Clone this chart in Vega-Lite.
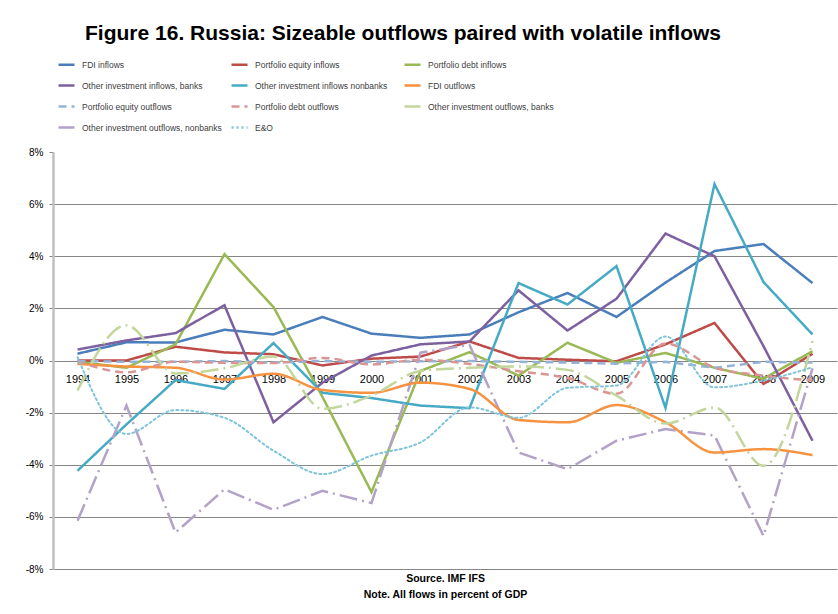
{
  "$schema": "https://vega.github.io/schema/vega-lite/v6.json",
  "width": 784,
  "height": 417,
  "autosize": {"type": "none"},
  "padding": {"left": 53, "top": 152, "right": 1, "bottom": 45},
  "background": "white",
  "config": {"view": {"stroke": null}, "font": "Liberation Sans"},
  "title": {
    "text": "Figure 16. Russia: Sizeable outflows paired with volatile inflows",
    "frame": "group", "anchor": "middle", "dx": -42, "offset": -6,
    "baseline": "alphabetic", "fontSize": 21, "fontWeight": "bold",
    "font": "Liberation Sans", "color": "#000000"
  },
  "datasets": {
    "flows": [
      {"year":"1994","series":"FDI inflows","value":0.26},{"year":"1995","series":"FDI inflows","value":0.7},{"year":"1996","series":"FDI inflows","value":0.69},{"year":"1997","series":"FDI inflows","value":1.18},{"year":"1998","series":"FDI inflows","value":1.0},{"year":"1999","series":"FDI inflows","value":1.67},{"year":"2000","series":"FDI inflows","value":1.03},{"year":"2001","series":"FDI inflows","value":0.87},{"year":"2002","series":"FDI inflows","value":1.0},{"year":"2003","series":"FDI inflows","value":1.85},{"year":"2004","series":"FDI inflows","value":2.59},{"year":"2005","series":"FDI inflows","value":1.67},{"year":"2006","series":"FDI inflows","value":2.99},{"year":"2007","series":"FDI inflows","value":4.2},{"year":"2008","series":"FDI inflows","value":4.47},{"year":"2009","series":"FDI inflows","value":2.97},
      {"year":"1994","series":"Portfolio equity inflows","value":0.0},{"year":"1995","series":"Portfolio equity inflows","value":0.0},{"year":"1996","series":"Portfolio equity inflows","value":0.53},{"year":"1997","series":"Portfolio equity inflows","value":0.31},{"year":"1998","series":"Portfolio equity inflows","value":0.24},{"year":"1999","series":"Portfolio equity inflows","value":-0.19},{"year":"2000","series":"Portfolio equity inflows","value":0.07},{"year":"2001","series":"Portfolio equity inflows","value":0.15},{"year":"2002","series":"Portfolio equity inflows","value":0.73},{"year":"2003","series":"Portfolio equity inflows","value":0.1},{"year":"2004","series":"Portfolio equity inflows","value":0.03},{"year":"2005","series":"Portfolio equity inflows","value":-0.03},{"year":"2006","series":"Portfolio equity inflows","value":0.62},{"year":"2007","series":"Portfolio equity inflows","value":1.44},{"year":"2008","series":"Portfolio equity inflows","value":-0.9},{"year":"2009","series":"Portfolio equity inflows","value":0.26},
      {"year":"1994","series":"Portfolio debt inflows","value":-0.05},{"year":"1995","series":"Portfolio debt inflows","value":-0.28},{"year":"1996","series":"Portfolio debt inflows","value":0.62},{"year":"1997","series":"Portfolio debt inflows","value":4.08},{"year":"1998","series":"Portfolio debt inflows","value":2.05},{"year":"1999","series":"Portfolio debt inflows","value":-1.4},{"year":"2000","series":"Portfolio debt inflows","value":-5.05},{"year":"2001","series":"Portfolio debt inflows","value":-0.4},{"year":"2002","series":"Portfolio debt inflows","value":0.32},{"year":"2003","series":"Portfolio debt inflows","value":-0.58},{"year":"2004","series":"Portfolio debt inflows","value":0.68},{"year":"2005","series":"Portfolio debt inflows","value":-0.09},{"year":"2006","series":"Portfolio debt inflows","value":0.29},{"year":"2007","series":"Portfolio debt inflows","value":-0.28},{"year":"2008","series":"Portfolio debt inflows","value":-0.7},{"year":"2009","series":"Portfolio debt inflows","value":0.36},
      {"year":"1994","series":"Other investment inflows, banks","value":0.42},{"year":"1995","series":"Other investment inflows, banks","value":0.77},{"year":"1996","series":"Other investment inflows, banks","value":1.05},{"year":"1997","series":"Other investment inflows, banks","value":2.12},{"year":"1998","series":"Other investment inflows, banks","value":-2.37},{"year":"1999","series":"Other investment inflows, banks","value":-0.85},{"year":"2000","series":"Other investment inflows, banks","value":0.19},{"year":"2001","series":"Other investment inflows, banks","value":0.62},{"year":"2002","series":"Other investment inflows, banks","value":0.73},{"year":"2003","series":"Other investment inflows, banks","value":2.69},{"year":"2004","series":"Other investment inflows, banks","value":1.15},{"year":"2005","series":"Other investment inflows, banks","value":2.37},{"year":"2006","series":"Other investment inflows, banks","value":4.87},{"year":"2007","series":"Other investment inflows, banks","value":4.0},{"year":"2008","series":"Other investment inflows, banks","value":0.55},{"year":"2009","series":"Other investment inflows, banks","value":-3.08},
      {"year":"1994","series":"Other investment inflows nonbanks","value":-4.23},{"year":"1995","series":"Other investment inflows nonbanks","value":-2.45},{"year":"1996","series":"Other investment inflows nonbanks","value":-0.75},{"year":"1997","series":"Other investment inflows nonbanks","value":-1.09},{"year":"1998","series":"Other investment inflows nonbanks","value":0.67},{"year":"1999","series":"Other investment inflows nonbanks","value":-1.24},{"year":"2000","series":"Other investment inflows nonbanks","value":-1.44},{"year":"2001","series":"Other investment inflows nonbanks","value":-1.73},{"year":"2002","series":"Other investment inflows nonbanks","value":-1.83},{"year":"2003","series":"Other investment inflows nonbanks","value":2.97},{"year":"2004","series":"Other investment inflows nonbanks","value":2.15},{"year":"2005","series":"Other investment inflows nonbanks","value":3.62},{"year":"2006","series":"Other investment inflows nonbanks","value":-1.82},{"year":"2007","series":"Other investment inflows nonbanks","value":6.77},{"year":"2008","series":"Other investment inflows nonbanks","value":3.01},{"year":"2009","series":"Other investment inflows nonbanks","value":1.0},
      {"year":"1994","series":"FDI outflows","value":-0.13},{"year":"1995","series":"FDI outflows","value":-0.23},{"year":"1996","series":"FDI outflows","value":-0.28},{"year":"1997","series":"FDI outflows","value":-0.73},{"year":"1998","series":"FDI outflows","value":-0.51},{"year":"1999","series":"FDI outflows","value":-1.13},{"year":"2000","series":"FDI outflows","value":-1.24},{"year":"2001","series":"FDI outflows","value":-0.85},{"year":"2002","series":"FDI outflows","value":-1.09},{"year":"2003","series":"FDI outflows","value":-2.28},{"year":"2004","series":"FDI outflows","value":-2.37},{"year":"2005","series":"FDI outflows","value":-1.71},{"year":"2006","series":"FDI outflows","value":-2.37},{"year":"2007","series":"FDI outflows","value":-3.53},{"year":"2008","series":"FDI outflows","value":-3.4},{"year":"2009","series":"FDI outflows","value":-3.63},
      {"year":"1994","series":"Portfolio equity outflows","value":-0.02},{"year":"1995","series":"Portfolio equity outflows","value":-0.05},{"year":"1996","series":"Portfolio equity outflows","value":-0.05},{"year":"1997","series":"Portfolio equity outflows","value":-0.02},{"year":"1998","series":"Portfolio equity outflows","value":-0.08},{"year":"1999","series":"Portfolio equity outflows","value":-0.02},{"year":"2000","series":"Portfolio equity outflows","value":-0.05},{"year":"2001","series":"Portfolio equity outflows","value":-0.03},{"year":"2002","series":"Portfolio equity outflows","value":-0.02},{"year":"2003","series":"Portfolio equity outflows","value":-0.05},{"year":"2004","series":"Portfolio equity outflows","value":-0.08},{"year":"2005","series":"Portfolio equity outflows","value":-0.12},{"year":"2006","series":"Portfolio equity outflows","value":-0.05},{"year":"2007","series":"Portfolio equity outflows","value":-0.28},{"year":"2008","series":"Portfolio equity outflows","value":-0.05},{"year":"2009","series":"Portfolio equity outflows","value":-0.08},
      {"year":"1994","series":"Portfolio debt outflows","value":-0.03},{"year":"1995","series":"Portfolio debt outflows","value":-0.45},{"year":"1996","series":"Portfolio debt outflows","value":-0.05},{"year":"1997","series":"Portfolio debt outflows","value":-0.09},{"year":"1998","series":"Portfolio debt outflows","value":-0.1},{"year":"1999","series":"Portfolio debt outflows","value":0.1},{"year":"2000","series":"Portfolio debt outflows","value":-0.15},{"year":"2001","series":"Portfolio debt outflows","value":0.03},{"year":"2002","series":"Portfolio debt outflows","value":-0.13},{"year":"2003","series":"Portfolio debt outflows","value":-0.41},{"year":"2004","series":"Portfolio debt outflows","value":-0.67},{"year":"2005","series":"Portfolio debt outflows","value":-1.28},{"year":"2006","series":"Portfolio debt outflows","value":0.65},{"year":"2007","series":"Portfolio debt outflows","value":-0.27},{"year":"2008","series":"Portfolio debt outflows","value":-0.58},{"year":"2009","series":"Portfolio debt outflows","value":-0.77},
      {"year":"1994","series":"Other investment outflows, banks","value":-1.15},{"year":"1995","series":"Other investment outflows, banks","value":1.35},{"year":"1996","series":"Other investment outflows, banks","value":-0.5},{"year":"1997","series":"Other investment outflows, banks","value":-0.3},{"year":"1998","series":"Other investment outflows, banks","value":0.15},{"year":"1999","series":"Other investment outflows, banks","value":-1.85},{"year":"2000","series":"Other investment outflows, banks","value":-1.35},{"year":"2001","series":"Other investment outflows, banks","value":-0.4},{"year":"2002","series":"Other investment outflows, banks","value":-0.28},{"year":"2003","series":"Other investment outflows, banks","value":-0.23},{"year":"2004","series":"Other investment outflows, banks","value":-0.36},{"year":"2005","series":"Other investment outflows, banks","value":-1.35},{"year":"2006","series":"Other investment outflows, banks","value":-2.42},{"year":"2007","series":"Other investment outflows, banks","value":-1.8},{"year":"2008","series":"Other investment outflows, banks","value":-4.04},{"year":"2009","series":"Other investment outflows, banks","value":0.75},
      {"year":"1994","series":"Other investment outflows, nonbanks","value":-6.15},{"year":"1995","series":"Other investment outflows, nonbanks","value":-1.73},{"year":"1996","series":"Other investment outflows, nonbanks","value":-6.6},{"year":"1997","series":"Other investment outflows, nonbanks","value":-4.94},{"year":"1998","series":"Other investment outflows, nonbanks","value":-5.73},{"year":"1999","series":"Other investment outflows, nonbanks","value":-5.0},{"year":"2000","series":"Other investment outflows, nonbanks","value":-5.47},{"year":"2001","series":"Other investment outflows, nonbanks","value":0.3},{"year":"2002","series":"Other investment outflows, nonbanks","value":0.6},{"year":"2003","series":"Other investment outflows, nonbanks","value":-3.53},{"year":"2004","series":"Other investment outflows, nonbanks","value":-4.17},{"year":"2005","series":"Other investment outflows, nonbanks","value":-3.08},{"year":"2006","series":"Other investment outflows, nonbanks","value":-2.63},{"year":"2007","series":"Other investment outflows, nonbanks","value":-2.88},{"year":"2008","series":"Other investment outflows, nonbanks","value":-6.73},{"year":"2009","series":"Other investment outflows, nonbanks","value":-0.3},
      {"year":"1994","series":"E&O","value":0.13},{"year":"1995","series":"E&O","value":-2.82},{"year":"1996","series":"E&O","value":-1.9},{"year":"1997","series":"E&O","value":-2.2},{"year":"1998","series":"E&O","value":-3.46},{"year":"1999","series":"E&O","value":-4.36},{"year":"2000","series":"E&O","value":-3.65},{"year":"2001","series":"E&O","value":-3.14},{"year":"2002","series":"E&O","value":-1.8},{"year":"2003","series":"E&O","value":-2.2},{"year":"2004","series":"E&O","value":-1.05},{"year":"2005","series":"E&O","value":-0.96},{"year":"2006","series":"E&O","value":0.92},{"year":"2007","series":"E&O","value":-1.03},{"year":"2008","series":"E&O","value":-0.77},{"year":"2009","series":"E&O","value":-0.26}
    ]
  },
  "data": {"name": "flows"},
  "encoding": {
    "x": {
      "field": "year", "type": "ordinal",
      "scale": {"type": "point", "padding": 0.5},
      "axis": {
        "orient": "bottom", "offset": -208.5, "domain": false, "ticks": false, "grid": false,
        "labelAngle": 0, "labelPadding": 13, "labelFontSize": 11, "labelColor": "#000000",
        "labelFont": "Liberation Sans",
        "title": ["Source. IMF IFS", "Note. All flows in percent of GDP"],
        "titleY": 221, "titleBaseline": "alphabetic", "titleLineHeight": 16,
        "titleFontSize": 10.5, "titleFontWeight": "bold", "titleColor": "#000000",
        "titleFont": "Liberation Sans"
      }
    },
    "y": {
      "field": "value", "type": "quantitative",
      "scale": {"domain": [-8, 8], "nice": false, "zero": false},
      "axis": {
        "values": [-8, -6, -4, -2, 0, 2, 4, 6, 8],
        "labelExpr": "datum.value + '%'",
        "domainColor": "#BFBFBF", "domainWidth": 2.5,
        "ticks": true, "tickSize": 4, "tickColor": "#868686",
        "grid": true, "gridColor": "#868686", "gridWidth": 1,
        "gridOpacity": {"condition": {"test": "datum.value == 8", "value": 0}, "value": 1},
        "labelFontSize": 10, "labelColor": "#000000", "labelPadding": 6,
        "labelFont": "Liberation Sans",
        "title": null
      }
    },
    "color": {
      "field": "series", "type": "nominal",
      "scale": {
        "domain": ["FDI inflows", "Portfolio equity inflows", "Portfolio debt inflows", "Other investment inflows, banks", "Other investment inflows nonbanks", "FDI outflows", "Portfolio equity outflows", "Portfolio debt outflows", "Other investment outflows, banks", "Other investment outflows, nonbanks", "E&O"],
        "range": ["#4A7EBB", "#BE4B48", "#98B954", "#7D60A0", "#46AAC5", "#F69240", "#95B3D7", "#D99694", "#C3D69B", "#B3A2C7", "#7FC4DA"]
      },
      "legend": {
        "title": null, "orient": "none", "legendX": 4, "legendY": -97, "direction": "horizontal",
        "columns": 3, "gridAlign": "all", "columnPadding": 4, "rowPadding": 6,
        "symbolType": "stroke", "symbolSize": 256, "symbolStrokeWidth": 2.5,
        "labelFont": "Liberation Sans", "labelFontSize": 8.5,
        "labelColor": "#404040", "labelOffset": 6, "labelLimit": 300, "padding": 0
      }
    },
    "strokeDash": {
      "field": "series", "type": "nominal",
      "scale": {
        "domain": ["FDI inflows", "Portfolio equity inflows", "Portfolio debt inflows", "Other investment inflows, banks", "Other investment inflows nonbanks", "FDI outflows", "Portfolio equity outflows", "Portfolio debt outflows", "Other investment outflows, banks", "Other investment outflows, nonbanks", "E&O"],
        "range": [[1, 0], [1, 0], [1, 0], [1, 0], [1, 0], [1, 0], [8, 5], [8, 5], [18, 5, 2, 5], [18, 5, 2, 5], [2, 3]]
      },
      "legend": {
        "title": null, "orient": "none", "legendX": 4, "legendY": -97, "direction": "horizontal",
        "columns": 3, "gridAlign": "all", "columnPadding": 4, "rowPadding": 6,
        "symbolType": "stroke", "symbolSize": 256, "symbolStrokeWidth": 2.5,
        "labelFont": "Liberation Sans", "labelFontSize": 8.5,
        "labelColor": "#404040", "labelOffset": 6, "labelLimit": 300, "padding": 0
      }
    }
  },
  "layer": [
    {
      "transform": [{"filter": {"not": {"field": "series", "oneOf": ["FDI outflows", "Other investment outflows, banks", "Portfolio debt outflows", "E&O"]}}}],
      "mark": {"type": "line", "strokeWidth": 2.5}
    },
    {
      "transform": [{"filter": {"field": "series", "oneOf": ["FDI outflows", "Other investment outflows, banks", "Portfolio debt outflows"]}}],
      "mark": {"type": "line", "strokeWidth": 2.5, "interpolate": "monotone"}
    },
    {
      "transform": [{"filter": {"field": "series", "equal": "E&O"}}],
      "mark": {"type": "line", "strokeWidth": 2, "interpolate": "monotone", "strokeCap": "round"}
    }
  ]
}
